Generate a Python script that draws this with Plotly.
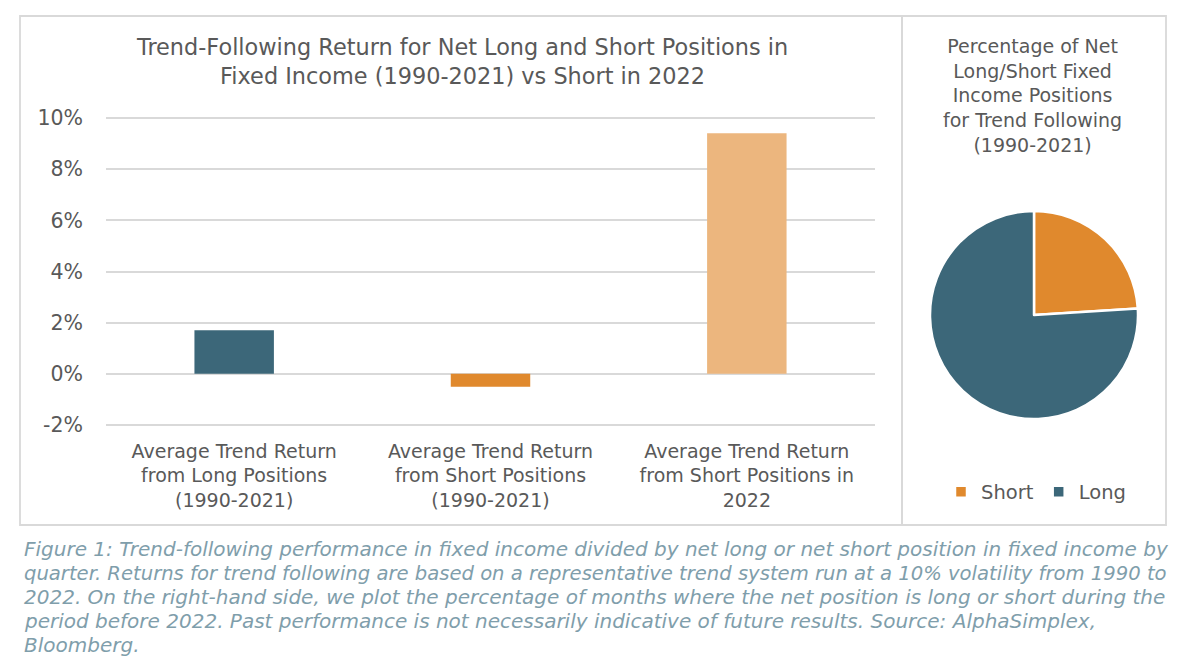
import plotly.graph_objects as go

# ---- data ----
categories = [
    "Average Trend Return<br>from Long Positions<br>(1990-2021)",
    "Average Trend Return<br>from Short Positions<br>(1990-2021)",
    "Average Trend Return<br>from Short Positions in<br>2022",
]
returns_pct = [1.7, -0.5, 9.4]
bar_colors = ["#3c6779", "#e0892d", "#ecb67e"]

pie_labels = ["Short", "Long"]
pie_values = [24, 76]
pie_colors = ["#e0892d", "#3c6779"]

y_tickvals = [-2, 0, 2, 4, 6, 8, 10]
y_ticktext = ["-2%", "0%", "2%", "4%", "6%", "8%", "10%"]

bar_title = "Trend-Following Return for Net Long and Short Positions in<br>Fixed Income (1990-2021) vs Short in 2022"
pie_title = "Percentage of Net<br>Long/Short Fixed<br>Income Positions<br>for Trend Following<br>(1990-2021)"
caption_lines = [
    "Figure 1: Trend-following performance in fixed income divided by net long or net short position in fixed income by",
    "quarter. Returns for trend following are based on a representative trend system run at a 10% volatility from 1990 to",
    "2022. On the right-hand side, we plot the percentage of months where the net position is long or short during the",
    "period before 2022. Past performance is not necessarily indicative of future results. Source: AlphaSimplex,",
    "Bloomberg.",
]
caption_sizes = [20, 19.6, 20, 20, 20]

# page has an 8px body margin; keep the figure inside the 1200x665 window
OFF_X, OFF_Y = 8, 8
W, H = 1184, 649
FONT = "DejaVu Sans"
GRAY = "#595959"
GRID = "#d9d9d9"


def px(x):
    return (x - OFF_X) / W


def py(y):
    return 1 - (y - OFF_Y) / H


fig = go.Figure()

fig.add_trace(go.Bar(
    x=categories, y=returns_pct, marker=dict(color=bar_colors, line=dict(width=0)),
    width=0.31, showlegend=False, hoverinfo="skip",
    xaxis="x", yaxis="y",
))

fig.add_trace(go.Pie(
    labels=pie_labels, values=pie_values, sort=False, direction="clockwise", rotation=0,
    marker=dict(colors=pie_colors, line=dict(color="white", width=2.5)),
    textinfo="none", hoverinfo="skip",
    domain=dict(x=[px(930), px(1138)], y=[py(419), py(211)]),
    showlegend=True, automargin=False,
))

fig.update_layout(
    width=W, height=H, autosize=False,
    margin=dict(l=0, r=0, t=0, b=0, pad=0, autoexpand=False),
    paper_bgcolor="white", plot_bgcolor="white",
    font=dict(family=FONT, color=GRAY, size=20),
    xaxis=dict(
        domain=[px(106), px(875)], showgrid=False, showline=False, zeroline=False,
        ticks="", ticklabelstandoff=10, automargin=False,
        tickfont=dict(size=19, color=GRAY, family=FONT), fixedrange=True,
    ),
    yaxis=dict(
        domain=[py(427.6), py(115.4)], range=[-2.1, 10.1],
        tickvals=y_tickvals, ticktext=y_ticktext,
        showgrid=True, gridcolor=GRID, gridwidth=1.8,
        zeroline=True, zerolinecolor=GRID, zerolinewidth=1.8,
        showline=False, ticks="", ticklabelstandoff=22, automargin=False,
        tickfont=dict(size=20.5, color=GRAY, family=FONT), fixedrange=True,
    ),
    legend=dict(
        orientation="h", x=px(1036), xanchor="center", y=py(492), yanchor="middle",
        font=dict(size=19.5, color=GRAY, family=FONT), itemwidth=30,
        bgcolor="rgba(0,0,0,0)",
    ),
    shapes=[
        dict(type="rect", xref="paper", yref="paper",
             x0=px(20), x1=px(902), y0=py(525), y1=py(16),
             line=dict(color=GRID, width=1.8)),
        dict(type="rect", xref="paper", yref="paper",
             x0=px(902), x1=px(1166), y0=py(525), y1=py(16),
             line=dict(color=GRID, width=1.8)),
    ],
)

annotations = [
    dict(text=bar_title, x=px(462), y=py(61.5), xref="paper", yref="paper",
         xanchor="center", yanchor="middle", showarrow=False,
         font=dict(size=22.4, color=GRAY, family=FONT)),
    dict(text=pie_title, x=px(1032), y=py(95), xref="paper", yref="paper",
         xanchor="center", yanchor="middle", showarrow=False,
         font=dict(size=19, color=GRAY, family=FONT)),
]
for i, line in enumerate(caption_lines):
    annotations.append(dict(
        text="<i>" + line + "</i>", x=px(22), y=py(549 + 24 * i), xref="paper", yref="paper",
        xanchor="left", yanchor="middle", showarrow=False,
        font=dict(size=caption_sizes[i], color="#7f9eab", family=FONT),
    ))
fig.update_layout(annotations=annotations)

fig.write_html("out.html")
